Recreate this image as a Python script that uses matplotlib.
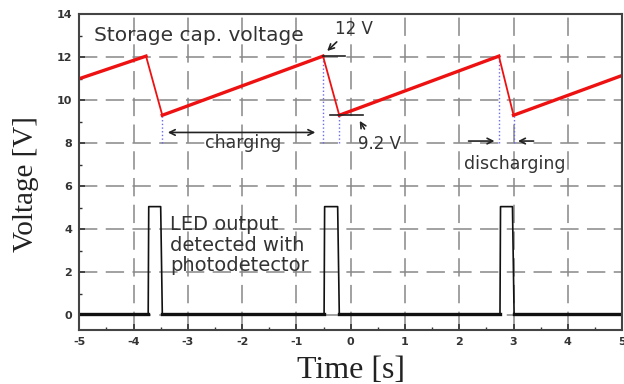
import matplotlib
matplotlib.use("Agg")
import matplotlib.pyplot as plt
from matplotlib.ticker import MultipleLocator

plt.rcParams['axes.unicode_minus'] = False

# storage capacitor voltage: charge ramps (thick) and discharge drops (thin)
charge_t = [[-5.0, -3.77], [-3.47, -0.51], [-0.21, 2.73], [3.0, 5.0]]
charge_v = [[11.0, 12.05], [9.3, 12.05], [9.3, 12.05], [9.3, 11.15]]
drop_t = [[-3.77, -3.47], [-0.51, -0.21], [2.73, 3.0]]
drop_v = [[12.05, 9.3], [12.05, 9.3], [12.05, 9.3]]

# LED output from the photodetector
led_t = [-5.0, -3.73, -3.72, -3.50, -3.47, -0.49, -0.48, -0.24, -0.21,
         2.75, 2.76, 2.98, 3.01, 5.0]
led_v = [0.05, 0.05, 5.05, 5.05, 0.05, 0.05, 5.05, 5.05, 0.05,
         0.05, 5.05, 5.05, 0.05, 0.05]
# flat (baseline) stretches drawn thicker, like the noisy trace
base_t = [(-5.0, -3.73), (-3.47, -0.49), (-0.21, 2.75), (3.01, 5.0)]

# blue dotted markers (t, v_top, v_bottom)
mark_t = [-3.47, -0.51, -0.21, 2.73, 3.0]
mark_top = [9.3, 12.05, 9.3, 12.05, 9.3]
mark_bot = [8.0, 8.0, 8.0, 8.0, 8.0]

fig = plt.figure(figsize=(6.24, 3.84), dpi=100)
ax = fig.add_axes([0.127, 0.14, 0.87, 0.823])

ax.set_xlim(-5, 5)
ax.set_ylim(-0.7, 14)
ax.xaxis.set_major_locator(MultipleLocator(1))
ax.xaxis.set_minor_locator(MultipleLocator(0.5))
ax.yaxis.set_major_locator(MultipleLocator(2))
ax.yaxis.set_minor_locator(MultipleLocator(1))
ax.tick_params(which='both', direction='in', color='#333333')
ax.tick_params(which='major', length=4, width=1.2, pad=5)
ax.tick_params(which='minor', length=2.5, width=1)
ax.grid(True, which='major', color='#888888', linestyle=(0, (12, 5.5)), linewidth=1.1)
for s in ax.spines.values():
    s.set_color('#444444')
    s.set_linewidth(1.5)

for lab in ax.get_xticklabels() + ax.get_yticklabels():
    lab.set_fontsize(8)
    lab.set_fontweight('bold')
    lab.set_color('#333333')

# LED trace
ax.plot(led_t, led_v, color='#111111', linewidth=1.2)
for a, b in base_t:
    ax.plot([a, b], [0.05, 0.05], color='#111111', linewidth=2.4)

for i in range(len(mark_t)):
    ax.plot([mark_t[i], mark_t[i]], [mark_bot[i], mark_top[i]],
            color='#6a6af0', linestyle=':', linewidth=1)

for t, v in zip(drop_t, drop_v):
    ax.plot(t, v, color='#ee1111', linewidth=1.3)
for t, v in zip(charge_t, charge_v):
    ax.plot(t, v, color='#ee1111', linewidth=2.4)

txt = dict(family='DejaVu Sans', color='#333333')
ax.text(-4.73, 13.0, 'Storage cap. voltage', fontsize=14.5, va='center', ha='left', **txt)
ax.text(-3.33, 4.65, 'LED output\ndetected with\nphotodetector', fontsize=14,
        va='top', ha='left', linespacing=1.1, **txt)

# 12 V / 9.2 V markers
ax.plot([-0.51, -0.1], [12.05, 12.05], color='#222222', linewidth=1.2)
ax.plot([-0.38, 0.23], [9.3, 9.3], color='#222222', linewidth=1.2)
ax.annotate('', xy=(-0.47, 12.2), xytext=(-0.22, 12.8),
            arrowprops=dict(arrowstyle='->', color='#222222', lw=1.2))
ax.text(-0.29, 13.3, '12 V', fontsize=12, va='center', ha='left', **txt)
ax.annotate('', xy=(0.14, 9.15), xytext=(0.28, 8.55),
            arrowprops=dict(arrowstyle='->', color='#222222', lw=1.2))
ax.text(0.14, 7.95, '9.2 V', fontsize=12, va='center', ha='left', **txt)

# charging
ax.annotate('', xy=(-3.42, 8.5), xytext=(-0.6, 8.5),
            arrowprops=dict(arrowstyle='<->', color='#222222', lw=1.2))
ax.text(-1.98, 8.0, 'charging', fontsize=12.5, va='center', ha='center', **txt)

# discharging
ax.annotate('', xy=(2.7, 8.1), xytext=(2.12, 8.1),
            arrowprops=dict(arrowstyle='->', color='#222222', lw=1.2))
ax.annotate('', xy=(3.03, 8.1), xytext=(3.42, 8.1),
            arrowprops=dict(arrowstyle='->', color='#222222', lw=1.2))
ax.text(3.03, 7.05, 'discharging', fontsize=12.5, va='center', ha='center', **txt)

ax.set_xlabel('Time [s]', family='Liberation Serif', fontsize=23, color='#222222')
ax.set_ylabel('Voltage [V]', family='Liberation Serif', fontsize=21, color='#222222')
ax.xaxis.set_label_coords(0.5, -0.127)
ax.yaxis.set_label_coords(-0.098, 0.462)
ax.xaxis.label.set_va('center')
ax.yaxis.label.set_va('center')

fig.savefig('out.png', dpi=100)
